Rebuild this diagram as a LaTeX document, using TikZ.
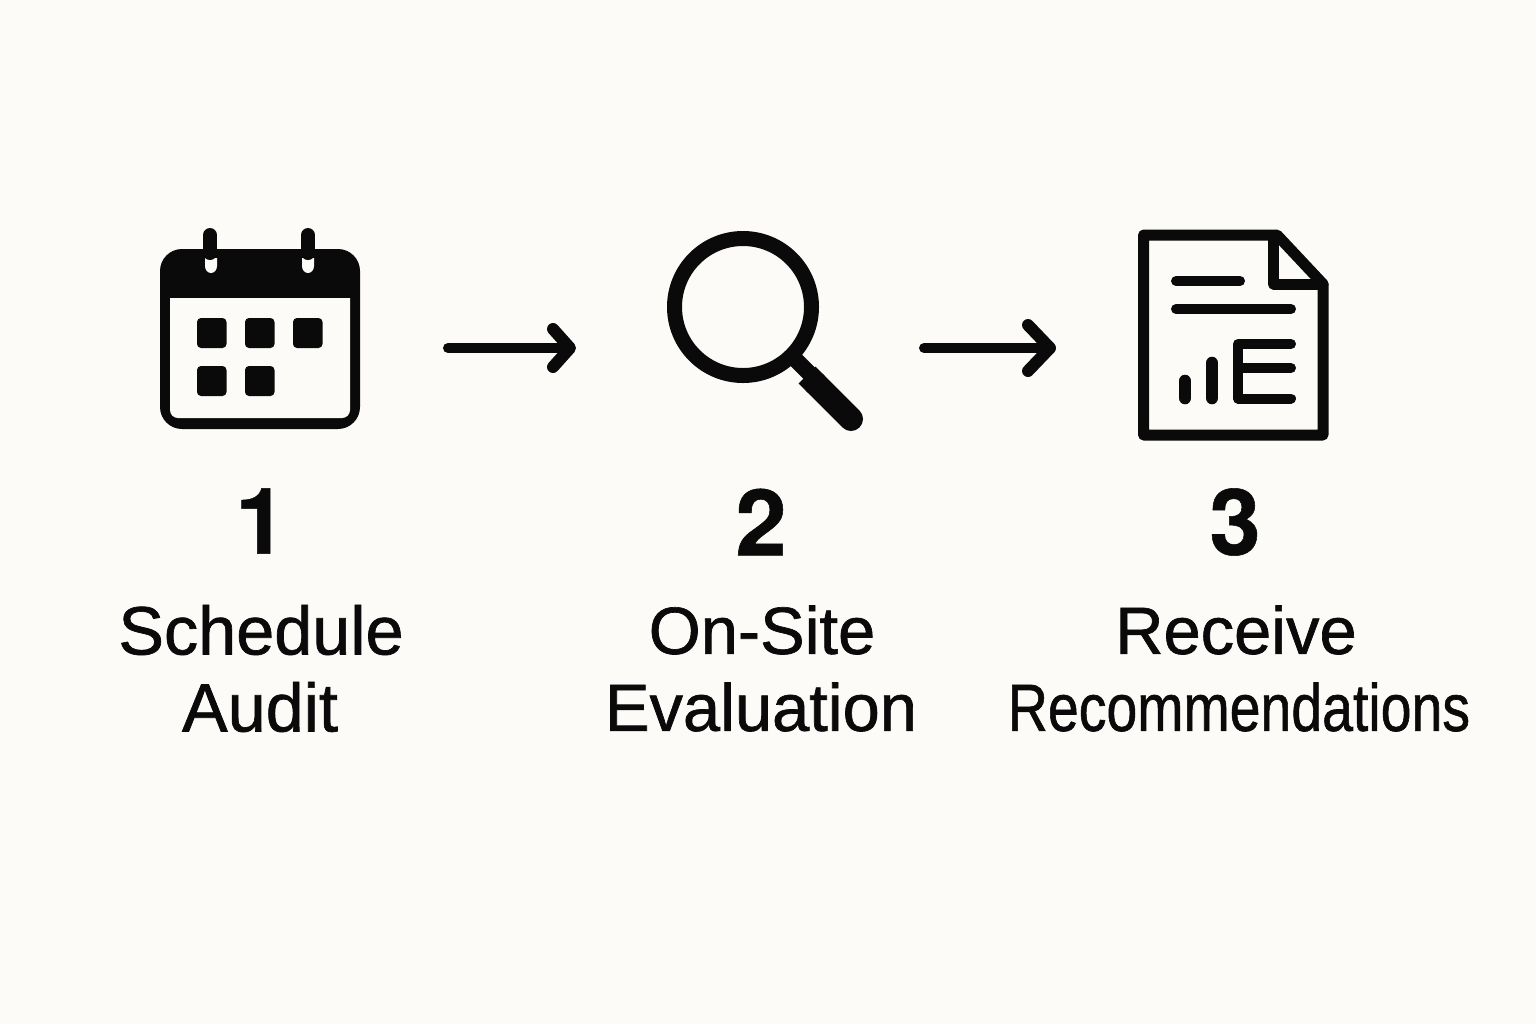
\documentclass[tikz,border=0pt]{standalone}
\usepackage{fontspec}
\setmainfont[FakeBold=1]{Liberation Sans}
\newfontfamily\numfont[FakeBold=0.6]{TeX Gyre Heros Bold}
\definecolor{bgc}{HTML}{FCFBF7}
\definecolor{ink}{HTML}{0A0A0A}
\tikzset{
  lbl/.style={text=ink,inner sep=0pt,font=\fontsize{33.4}{33.4}\selectfont},
  lblw/.style={text=ink,inner sep=0pt,font=\fontsize{34.2}{34.2}\selectfont},
  num/.style={text=ink,inner sep=0pt,font=\fontsize{46}{46}\selectfont\numfont},
  flow/.style={draw=ink,line width=5pt,line cap=round,line join=round},
  head/.style={draw=ink,line width=6pt,line cap=round,line join=round},
  ico/.style={draw=ink,line cap=round,line join=round},
}
\begin{document}
\begin{tikzpicture}[x=0.5pt,y=-0.5pt]
\useasboundingbox (0,0) rectangle (1536,1024);
\fill[bgc] (0,0) rectangle (1536,1024);
% calendar
\fill[ink,rounded corners=11pt] (160,249) rectangle (360,429);
\fill[bgc,rounded corners=4pt] (170,290) -- (170,418) -- (350,418) -- (350,290) -- cycle;
\fill[ink] (165,285) rectangle (355,298);
\foreach \x/\c in {210/211,308/308}{
  \fill[bgc] (\c-6,258) -- (\c+6,258) -- (\c+6,266) arc (0:180:6 and 7) -- cycle;
  \draw[ico,line width=7pt] (\x,235) -- (\x,253);
}
\foreach \x/\y in {197/318,245/318,293/318,197/366,245/366}{
  \fill[ink,rounded corners=2pt] (\x,\y) rectangle ++(29.5,30);
}
% magnifier
\draw[ink,line width=7.5pt] (743,307) circle (68.5);
\draw[ink,line width=8pt] (793,357) -- (812,376);
\draw[ink,line width=12pt] (807,375) -- (816,384);
\draw[ico,line width=12pt] (815,383) -- (851,419);
% document
\draw[ico,line width=5.5pt] (1277,235) -- (1143.5,235) -- (1143.5,435) -- (1323,435) -- (1323,284) -- cycle;
\draw[ico,line width=5.5pt] (1273.5,237) -- (1273.5,284) -- (1323,284);
\draw[ico,line width=5pt] (1176,281) -- (1240,281);
\draw[ico,line width=5pt] (1176,309) -- (1291,309);
\draw[ico,line width=5pt] (1291,344) -- (1238,344) -- (1238,398.5) -- (1291,398.5);
\draw[ico,line width=5pt] (1238,368) -- (1291,368);
\draw[ico,line width=6.3pt] (1185,381) -- (1185,398);
\draw[ico,line width=6.3pt] (1212,363) -- (1212,398);
% arrows
\coordinate (a1s) at (448,348);
\coordinate (a1e) at (570,348);
\coordinate (a2s) at (924,348);
\coordinate (a2e) at (1050,348);
\draw[flow] (a1s) -- (a1e);
\draw[head] (553,329) -- (a1e) -- (553,367);
\draw[flow] (a2s) -- (a2e);
\draw[head] (1028,325) -- (a2e) -- (1028,371);
% labels
\node[num] (n1) at (261,521) {1};
\node[num] (n2) at (761,522) {2};
\node[num] (n3) at (1235,522) {3};
\node[lblw] (l1a) at (261,630) {Schedule};
\node[lblw] (l1b) at (260,707) {Audit};
\node[lbl] (l2a) at (762,630) {On-Site};
\node[lbl] (l2b) at (761,707) {Evaluation};
\node[lbl] (l3a) at (1236,630) {Receive};
\node[lbl] (l3b) at (1239,707) {\scalebox{0.83}[1]{Recommendations}};
\end{tikzpicture}
\end{document}
